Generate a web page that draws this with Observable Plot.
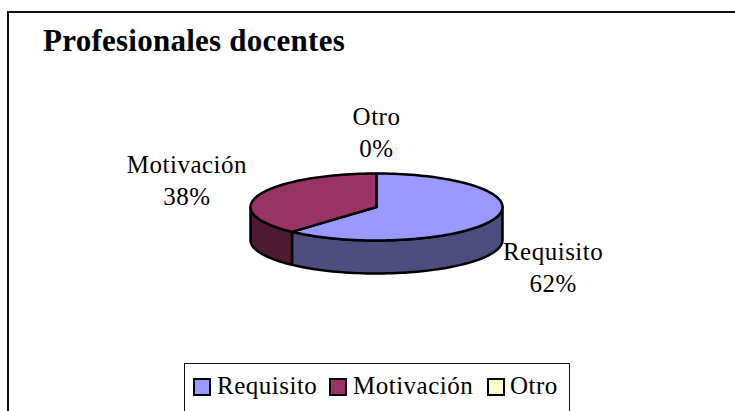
<!DOCTYPE html>
<html>
<head>
<meta charset="utf-8">
<script src="https://cdn.jsdelivr.net/npm/d3@7"></script>
<script src="https://cdn.jsdelivr.net/npm/@observablehq/plot@0.6"></script>
<style>
  html, body { margin: 0; padding: 0; background: #fff; overflow: hidden; }
  #page { position: relative; width: 735px; height: 411px; overflow: hidden; font-family: "Liberation Serif", serif; color: #000; }
  #page svg { position: absolute; left: 0; top: 0; background: transparent; }
  #page svg text { letter-spacing: 0.5px; }
  #frame { position: absolute; left: 7px; top: 11px; width: 800px; height: 500px; border: 2px solid #111; }
  #title { position: absolute; left: 43px; top: 23px; font-size: 31px; letter-spacing: 0.25px; font-weight: bold; white-space: nowrap; line-height: 36px; }
  #legend { position: absolute; left: 184px; top: 363px; width: 386px; height: 60px; border: 1px solid #111; background: #fff; box-sizing: border-box; }
  .entry { position: absolute; top: 7px; font-size: 25px; letter-spacing: 0.5px; line-height: 30px; white-space: nowrap; }
  .swatch { position: absolute; top: 14px; width: 18px; height: 18px; border: 2px solid #000; box-sizing: border-box; }
</style>
</head>
<body>
<div id="page">
  <div id="frame"></div>
  <div id="title"></div>
  <div id="plot"></div>
  <div id="legend"></div>
</div>
<script>
const chartTitle = "Profesionales docentes";
const categories = ["Requisito", "Motivación", "Otro"];
const shares = [61.7, 38.3, 0];
const percentLabels = ["62%", "38%", "0%"];
const topColors = ["#9999FF", "#993366", "#FFFFCC"];
const sideColors = ["#4D4D80", "#4D1933", "#808066"];

document.getElementById("title").textContent = chartTitle;

// Pie geometry, in units of the horizontal radius
const W = 735, H = 411;
const cx = 376, cy = 206.5, rx = 126;
const ryRatio = 33.5 / rx, depth = 33 / rx;

const pie = d3.pie().sort(null).value(d => d)(shares);
const onRim = (a, drop = 0) => ({x: Math.sin(a), y: Math.cos(a) * ryRatio - drop});
const sweep = (a0, a1) => {
  const n = Math.max(1, Math.ceil(Math.abs(a1 - a0) / (Math.PI / 90)));
  return d3.range(n + 1).map(i => a0 + (a1 - a0) * i / n);
};

const polygons = [];
let pid = 0;
// Front walls: only the near half of the rim is visible
pie.forEach((s, i) => {
  const a0 = Math.max(s.startAngle, Math.PI / 2), a1 = Math.min(s.endAngle, 3 * Math.PI / 2);
  if (a1 <= a0) return;
  const angles = sweep(a0, a1);
  const ring = [...angles.map(a => onRim(a)), ...angles.slice().reverse().map(a => onRim(a, depth))];
  ring.push(ring[0]);
  pid++;
  ring.forEach(p => polygons.push({...p, id: pid, color: sideColors[i]}));
});
// Top faces
pie.forEach((s, i) => {
  if (s.endAngle - s.startAngle <= 0) return;
  const c = {x: 0, y: 0};
  const ring = [c, ...sweep(s.startAngle, s.endAngle).map(a => onRim(a)), c];
  pid++;
  ring.forEach(p => polygons.push({...p, id: pid, color: topColors[i]}));
});

// Slice labels sit outside the rim, offset (in px) from the slice's middle angle
const labelOffset = [[59, 49], [-72, -13.5], [0, -41]];
const lineGap = 16;
const labelRows = pie.flatMap((s, i) => {
  const p = onRim((s.startAngle + s.endAngle) / 2);
  const [dx, dy] = labelOffset[i];
  const x = p.x + dx / rx, y = p.y - dy / rx;
  return [
    {x, y: y + lineGap / rx, text: categories[i]},
    {x, y: y - lineGap / rx, text: percentLabels[i]}
  ];
});

const chart = Plot.plot({
  width: W, height: H, margin: 0,
  style: {background: "transparent"},
  x: {domain: [-cx / rx, (W - cx) / rx], range: [0, W], axis: null},
  y: {domain: [-(H - cy) / rx, cy / rx], range: [H, 0], axis: null},
  color: {type: "identity"},
  marks: [
    Plot.line(polygons, {x: "x", y: "y", z: "id", fill: "color", stroke: "#000", strokeWidth: 2.5, curve: "linear", strokeLinejoin: "round"}),
    Plot.text(labelRows, {x: "x", y: "y", text: "text", fontSize: 25, fontFamily: "Liberation Serif", fill: "#000"})
  ]
});
document.getElementById("plot").appendChild(chart);

const legend = document.getElementById("legend");
const positions = [[8, 32], [144, 168], [302, 325]];
categories.forEach((c, i) => {
  const sw = document.createElement("div");
  sw.className = "swatch";
  sw.style.left = positions[i][0] + "px";
  sw.style.background = topColors[i];
  legend.appendChild(sw);
  const t = document.createElement("div");
  t.className = "entry";
  t.style.left = positions[i][1] + "px";
  t.textContent = c;
  legend.appendChild(t);
});
</script>
</body>
</html>
